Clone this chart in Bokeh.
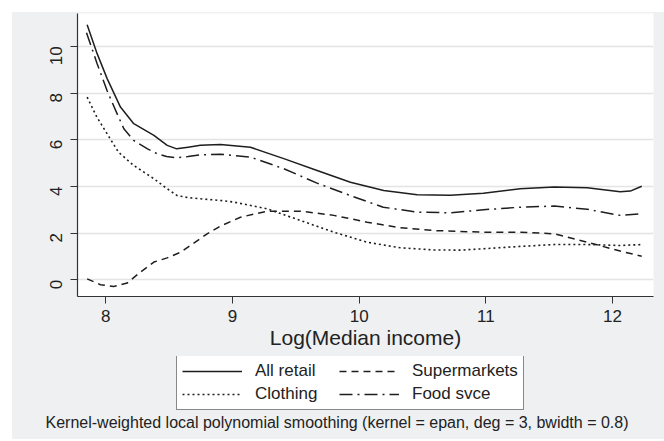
import numpy as np
from bokeh.plotting import figure
from bokeh.layouts import column, row
from bokeh.models import Legend, LegendItem, Title, Range1d, FixedTicker, Spacer
from bokeh.embed import file_html
from bokeh.resources import INLINE

# ---- data ----
retail_x = [7.853, 7.932, 8.011, 8.116, 8.221, 8.38, 8.485, 8.56, 8.65, 8.747, 8.905, 9.142,
            9.405, 9.668, 9.931, 10.194, 10.458, 10.72, 10.98, 11.27, 11.54, 11.80, 12.06, 12.14, 12.23]
retail_y = [10.93, 9.69, 8.62, 7.40, 6.69, 6.19, 5.76, 5.61, 5.68, 5.76, 5.80, 5.68,
            5.19, 4.68, 4.18, 3.83, 3.64, 3.62, 3.71, 3.90, 3.98, 3.94, 3.77, 3.80, 4.01]

food_x = [7.848, 7.932, 8.01, 8.09, 8.143, 8.22, 8.33, 8.406, 8.48, 8.563, 8.65, 8.747, 8.905,
          9.14, 9.405, 9.668, 9.93, 10.19, 10.457, 10.72, 10.98, 11.27, 11.54, 11.80, 12.06, 12.23]
food_y = [10.59, 9.26, 8.11, 7.11, 6.47, 5.97, 5.61, 5.40, 5.28, 5.23, 5.28, 5.35, 5.38,
          5.26, 4.76, 4.14, 3.61, 3.11, 2.90, 2.87, 3.00, 3.11, 3.16, 3.02, 2.76, 2.83]

cloth_x = [7.853, 7.93, 8.01, 8.10, 8.22, 8.38, 8.485, 8.563, 8.65, 8.747, 8.905, 9.01, 9.274,
           9.537, 9.80, 10.063, 10.326, 10.59, 10.80, 10.98, 11.27, 11.54, 11.80, 12.06, 12.23]
cloth_y = [7.83, 6.97, 6.26, 5.47, 4.90, 4.33, 3.90, 3.61, 3.52, 3.47, 3.40, 3.33, 3.04,
           2.54, 2.04, 1.61, 1.37, 1.28, 1.27, 1.33, 1.43, 1.51, 1.51, 1.47, 1.51]

super_x = [7.853, 7.958, 8.063, 8.169, 8.274, 8.38, 8.485, 8.59, 8.695, 8.80, 8.905, 9.063,
           9.274, 9.537, 9.80, 10.063, 10.326, 10.59, 10.98, 11.27, 11.54, 11.80, 12.06, 12.23]
super_y = [0.04, -0.21, -0.29, -0.14, 0.33, 0.76, 0.94, 1.18, 1.57, 1.97, 2.30, 2.68,
           2.94, 2.94, 2.76, 2.47, 2.23, 2.11, 2.04, 2.04, 1.97, 1.61, 1.23, 1.01]

series_names = ["All retail", "Supermarkets", "Clothing", "Food svce"]
x_ticks = [8, 9, 10, 11, 12]
y_ticks = [0, 2, 4, 6, 8, 10]
caption_text = "Kernel-weighted local polynomial smoothing (kernel = epan, deg = 3, bwidth = 0.8)"

FONT = "Liberation Sans"
TXT = "#222222"
BG = "#eef0f2"
LC = "#1e1e1e"
STYLES = [dict(line_width=1.5),
          dict(line_width=1.5, line_dash="7 5"),
          dict(line_width=1.6, line_dash="2 3"),
          dict(line_width=1.5, line_dash="13 5 2 5")]
DATA = [(retail_x, retail_y), (super_x, super_y), (cloth_x, cloth_y), (food_x, food_y)]

# ---- main chart ----
p = figure(frame_width=576, frame_height=283, output_backend="svg", toolbar_location=None,
           x_range=Range1d(7.777, 12.323), y_range=Range1d(-0.716, 11.41),
           min_border_left=65, min_border_right=11, min_border_top=1, min_border_bottom=60)
p.background_fill_color = "white"
p.border_fill_color = BG
p.outline_line_color = None

for (xs, ys), st in zip(DATA, STYLES):
    p.line(xs, ys, line_color=LC, line_join="round", **st)

for ax in (p.xaxis[0], p.yaxis[0]):
    ax.axis_line_color = "#333333"
    ax.axis_line_width = 1.2
    ax.major_tick_line_color = "#333333"
    ax.major_tick_out = 7
    ax.major_tick_in = 0
    ax.minor_tick_line_color = None
    ax.major_label_text_font = FONT
    ax.major_label_text_font_size = "17px"
    ax.major_label_text_color = TXT

p.xaxis.ticker = FixedTicker(ticks=x_ticks)
p.yaxis.ticker = FixedTicker(ticks=y_ticks)
p.yaxis.major_label_orientation = np.pi / 2
p.yaxis.major_label_standoff = 14
p.xaxis.major_label_standoff = 6
p.xaxis.axis_label = "Log(Median income)"
p.xaxis.axis_label_text_font = FONT
p.xaxis.axis_label_text_font_size = "21px"
p.xaxis.axis_label_text_font_style = "normal"
p.xaxis.axis_label_text_color = TXT
p.xaxis.axis_label_standoff = 1

p.xgrid.grid_line_color = None
p.ygrid.ticker = FixedTicker(ticks=y_ticks)
p.ygrid.grid_line_color = "#e4e4e4"
p.ygrid.grid_line_width = 1.5

# ---- key + note panel (same series, drawn outside its view so only the key shows) ----
q = figure(frame_width=576, frame_height=55, output_backend="svg", toolbar_location=None,
           x_range=Range1d(0, 1), y_range=Range1d(0, 1),
           x_axis_location=None, y_axis_location=None,
           min_border_left=65, min_border_right=11, min_border_top=0, min_border_bottom=28)
q.background_fill_color = BG
q.border_fill_color = BG
q.outline_line_color = None
q.xgrid.grid_line_color = None
q.ygrid.grid_line_color = None

rs = [q.line(xs, ys, line_color=LC, **st) for (xs, ys), st in zip(DATA, STYLES)]

legend = Legend(items=[LegendItem(label=n, renderers=[r]) for n, r in zip(series_names, rs)],
                nrows=2, orientation="horizontal", location=(99, 1))
legend.label_text_font = FONT
legend.label_text_font_size = "17px"
legend.label_text_color = TXT
legend.glyph_width = 60
legend.glyph_height = 20
legend.label_height = 20
legend.label_width = 81
legend.label_standoff = 13
legend.padding = 5
legend.spacing = 3
legend.margin = 0
legend.border_line_color = "#111111"
legend.border_line_width = 1.2
legend.background_fill_color = "white"
legend.background_fill_alpha = 1.0
q.add_layout(legend, "center")

cap = Title(text=caption_text, align="left", offset=-32, text_font=FONT,
            text_font_size="16px", text_font_style="normal", text_color=TXT, standoff=0)
q.add_layout(cap, "below")

inner = column(p, q, spacing=0, styles={"background-color": BG})
layout = column(Spacer(height=12), row(Spacer(width=12), inner, spacing=0), spacing=0)
open("out.html", "w").write(file_html(layout, INLINE))
